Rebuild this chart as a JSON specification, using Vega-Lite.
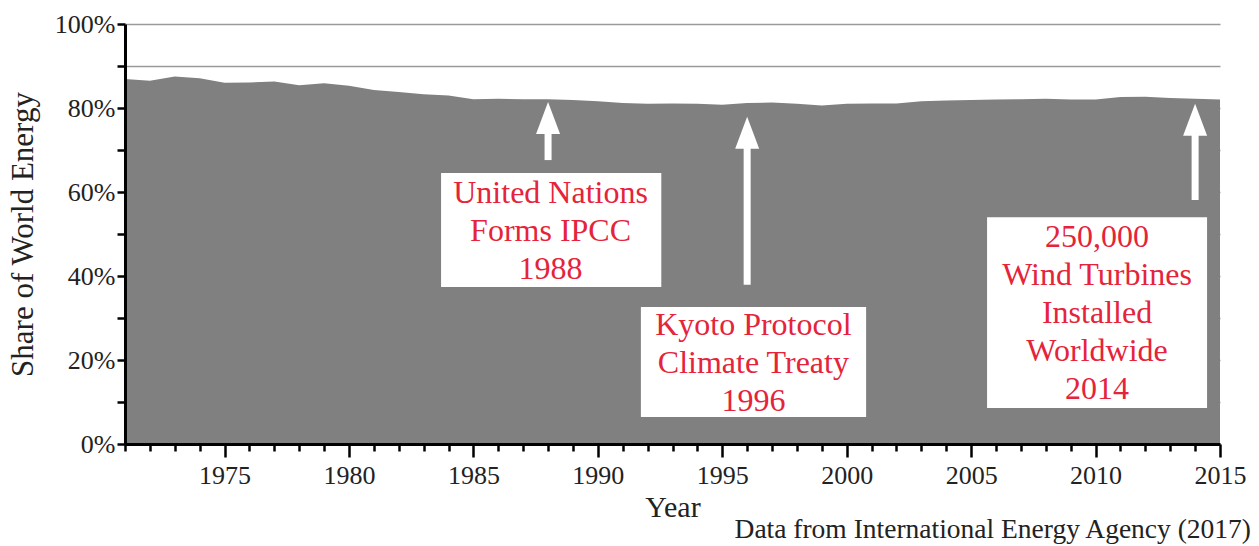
{
  "$schema": "https://vega.github.io/schema/vega-lite/v6.json",
  "autosize": {"type": "none"},
  "padding": {"left": 125, "top": 24, "right": 39, "bottom": 102},
  "width": 1095,
  "height": 420,
  "background": "white",
  "config": {
    "view": {"stroke": null},
    "font": "Liberation Serif",
    "axis": {"labelFont": "Liberation Serif", "titleFont": "Liberation Serif", "labelColor": "#222", "titleColor": "#222", "titleFontWeight": "normal"}
  },
  "title": {
    "text": "Data from International Energy Agency (2017)",
    "orient": "bottom",
    "anchor": "end",
    "frame": "group",
    "font": "Liberation Serif",
    "fontSize": 27.5,
    "fontWeight": "normal",
    "color": "#222",
    "dx": 31,
    "offset": -6
  },
  "resolve": {"axis": {"x": "independent", "y": "independent"}},
  "layer": [
    {
      "data": {"values": [
        {"year": 1971, "share": 86.9}, {"year": 1972, "share": 86.5}, {"year": 1973, "share": 87.5},
        {"year": 1974, "share": 87.1}, {"year": 1975, "share": 86.0}, {"year": 1976, "share": 86.1},
        {"year": 1977, "share": 86.3}, {"year": 1978, "share": 85.4}, {"year": 1979, "share": 85.9},
        {"year": 1980, "share": 85.3}, {"year": 1981, "share": 84.3}, {"year": 1982, "share": 83.8},
        {"year": 1983, "share": 83.3}, {"year": 1984, "share": 83.0}, {"year": 1985, "share": 82.1},
        {"year": 1986, "share": 82.2}, {"year": 1987, "share": 82.1}, {"year": 1988, "share": 82.1},
        {"year": 1989, "share": 81.9}, {"year": 1990, "share": 81.6}, {"year": 1991, "share": 81.2},
        {"year": 1992, "share": 81.0}, {"year": 1993, "share": 81.1}, {"year": 1994, "share": 81.0},
        {"year": 1995, "share": 80.8}, {"year": 1996, "share": 81.2}, {"year": 1997, "share": 81.3},
        {"year": 1998, "share": 81.0}, {"year": 1999, "share": 80.6}, {"year": 2000, "share": 81.0},
        {"year": 2001, "share": 81.1}, {"year": 2002, "share": 81.1}, {"year": 2003, "share": 81.6},
        {"year": 2004, "share": 81.8}, {"year": 2005, "share": 81.9}, {"year": 2006, "share": 82.0},
        {"year": 2007, "share": 82.1}, {"year": 2008, "share": 82.2}, {"year": 2009, "share": 82.0},
        {"year": 2010, "share": 82.0}, {"year": 2011, "share": 82.6}, {"year": 2012, "share": 82.7},
        {"year": 2013, "share": 82.4}, {"year": 2014, "share": 82.2}, {"year": 2015, "share": 82.0}
      ]},
      "mark": {"type": "area", "color": "#808080", "opacity": 1},
      "encoding": {
        "x": {
          "field": "year", "type": "quantitative",
          "scale": {"domain": [1971, 2015], "nice": false, "zero": false},
          "axis": {
            "title": "Year",
            "titleFontSize": 30,
            "titlePadding": 4,
            "values": [1971,1972,1973,1974,1975,1976,1977,1978,1979,1980,1981,1982,1983,1984,1985,1986,1987,1988,1989,1990,1991,1992,1993,1994,1995,1996,1997,1998,1999,2000,2001,2002,2003,2004,2005,2006,2007,2008,2009,2010,2011,2012,2013,2014,2015],
            "format": "d",
            "labelExpr": "datum.value % 5 === 0 ? datum.label : ''",
            "labelFontSize": 26,
            "labelPadding": 5,
            "labelOverlap": false,
            "labelFlush": false,
            "labelBound": false,
            "grid": false,
            "domainColor": "#000",
            "domainWidth": 3,
            "tickColor": "#000",
            "tickWidth": 2.5,
            "tickSize": {"condition": {"test": "datum.value % 5 === 0", "value": 13}, "value": 7},
            "zindex": 1
          }
        },
        "y": {
          "field": "share", "type": "quantitative",
          "scale": {"domain": [0, 100], "nice": false},
          "axis": {
            "values": [0,10,20,30,40,50,60,70,80,90,100],
            "grid": true,
            "gridColor": "#9a9a9a",
            "gridWidth": 1.5,
            "domain": false,
            "ticks": false,
            "labels": false,
            "title": null,
            "zindex": 0
          }
        }
      }
    },
    {
      "data": {"values": [
        {"x1": 1983.7, "x2": 1992.55, "y1": 37.4, "y2": 64.5},
        {"x1": 1991.73, "x2": 2000.78, "y1": 6.4, "y2": 32.6},
        {"x1": 2005.64, "x2": 2014.48, "y1": 8.6, "y2": 54.0}
      ]},
      "mark": {"type": "rect", "fill": "white", "stroke": null},
      "encoding": {
        "x": {"field": "x1", "type": "quantitative", "axis": null},
        "x2": {"field": "x2"},
        "y": {
          "field": "y1", "type": "quantitative",
          "axis": {
            "orient": "left",
            "title": "Share of World Energy",
            "titleFontSize": 31,
            "titlePadding": 15,
            "values": [0,10,20,30,40,50,60,70,80,90,100],
            "labelExpr": "datum.value % 20 === 0 ? datum.value + '%' : ''",
            "labelFontSize": 26,
            "labelPadding": 2,
            "labelOverlap": false,
            "labelFlush": false,
            "labelBound": false,
            "grid": false,
            "domainColor": "#000",
            "domainWidth": 3,
            "tickColor": "#000",
            "tickWidth": 2.5,
            "tickSize": 8,
            "zindex": 1
          }
        },
        "y2": {"field": "y2"}
      }
    },
    {
      "data": {"values": [
        {"year": 1988, "tip": 81.4, "base": 67.6},
        {"year": 1996, "tip": 77.9, "base": 37.9},
        {"year": 2014, "tip": 81.0, "base": 58.1}
      ]},
      "layer": [
        {
          "mark": {"type": "rule", "color": "white", "strokeWidth": 7, "y2Offset": 20},
          "encoding": {
            "x": {"field": "year", "type": "quantitative", "axis": null},
            "y": {"field": "base", "type": "quantitative", "axis": null},
            "y2": {"field": "tip"}
          }
        },
        {
          "mark": {"type": "point", "shape": "M0,-1L0.75,1L-0.75,1Z", "size": 1024, "filled": true, "fill": "white", "opacity": 1, "strokeWidth": 0, "yOffset": 16},
          "encoding": {
            "x": {"field": "year", "type": "quantitative", "axis": null},
            "y": {"field": "tip", "type": "quantitative", "axis": null}
          }
        }
      ]
    },
    {
      "data": {"values": [
        {"cx": 1988.1, "cy": 59.8, "label": "United Nations\nForms IPCC\n1988"},
        {"cx": 1996.25, "cy": 28.3, "label": "Kyoto Protocol\nClimate Treaty\n1996"},
        {"cx": 2010.06, "cy": 49.3, "label": "250,000\nWind Turbines\nInstalled\nWorldwide\n2014"}
      ]},
      "mark": {"type": "text", "font": "Liberation Serif", "fontSize": 32, "color": "#e5233b", "lineBreak": "\n", "lineHeight": 38, "align": "center", "baseline": "middle"},
      "encoding": {
        "x": {"field": "cx", "type": "quantitative", "axis": null},
        "y": {"field": "cy", "type": "quantitative", "axis": null},
        "text": {"field": "label"}
      }
    }
  ]
}
